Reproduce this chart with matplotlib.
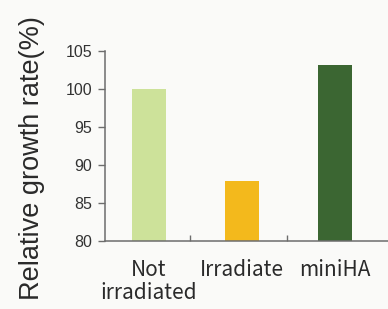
import numpy as np
import matplotlib
matplotlib.use('Agg')
from matplotlib import pyplot as plt

categories = ['Not\nirradiated', 'Irradiate', 'miniHA']
values = [100.0, 87.8, 103.1]
colors = ['#cde29a', '#f3b91c', '#3b6632']
yticks = [80, 85, 90, 95, 100, 105]

fig = plt.figure(figsize=(3.88, 3.09), dpi=100, facecolor='#fafaf8')
ax = fig.add_axes([0.2706, 0.221, 0.7294, 0.615])
ax.set_facecolor('#fafaf8')

x = np.arange(len(categories))
ax.bar(x, values, width=0.36, color=colors)

ax.set_ylim(80, 105)
ax.set_xlim(-0.473, 2.57)
ax.set_yticks(yticks)
ax.set_yticklabels([str(t) for t in yticks], family='Liberation Sans', fontsize=11.5, color='#333333')
ax.set_xticks(x)
ax.set_xticklabels(categories, family=['Noto Sans CJK JP', 'DejaVu Sans'], fontsize=15, color='#2a2a2a', linespacing=1.05)
ax.tick_params(axis='x', length=0, pad=13)
ax.set_xticks([0.44, 1.48], minor=True)
ax.tick_params(axis='x', which='minor', direction='in', length=4, width=1, color='#6d6d6d')
ax.tick_params(axis='y', length=5, width=1, color='#6d6d6d', pad=4)

for s in ['top', 'right']:
  ax.spines[s].set_visible(False)
for s in ['left', 'bottom']:
  ax.spines[s].set_color('#6d6d6d')
  ax.spines[s].set_linewidth(1.1)

fig.text(0.083, 0.49, 'Relative growth rate(%)', rotation=90, ha='center', va='center',
         family='Liberation Sans', fontsize=19.5, color='#2a2a2a')

fig.savefig('out.png', dpi=100, facecolor=fig.get_facecolor())
